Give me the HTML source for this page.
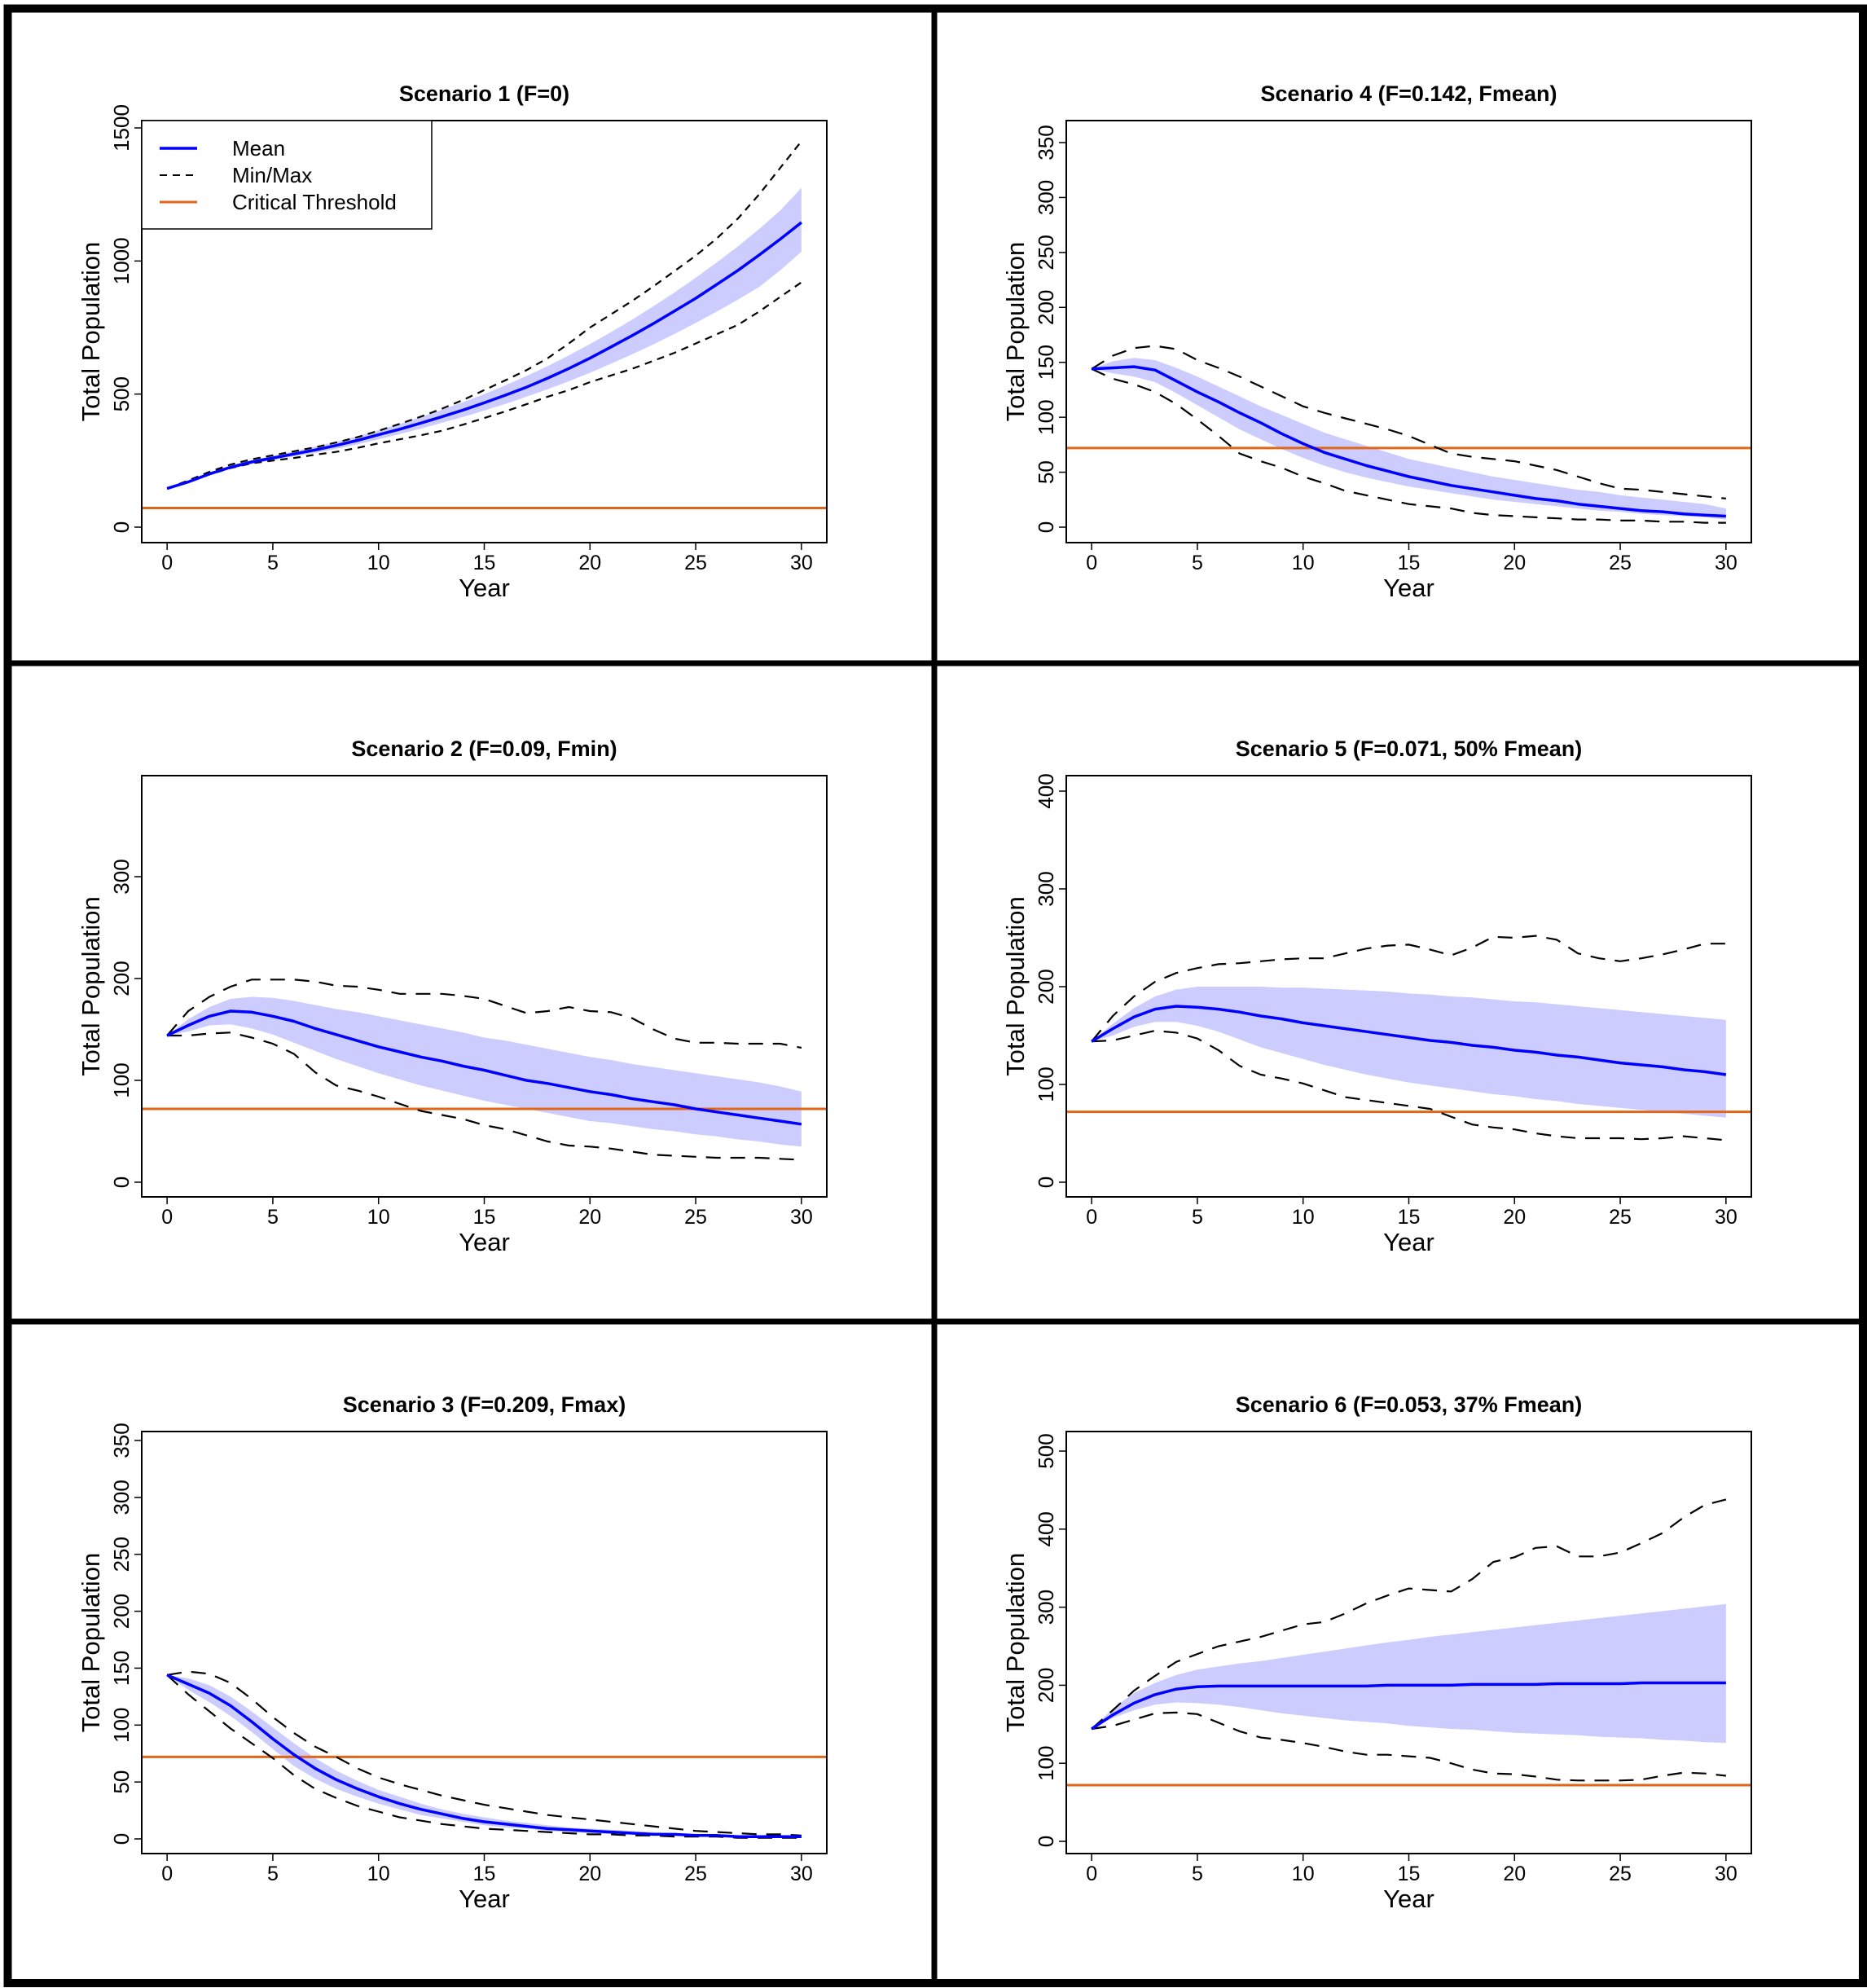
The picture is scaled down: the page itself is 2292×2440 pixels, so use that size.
<!DOCTYPE html>
<html><head><meta charset="utf-8"><style>
html,body{margin:0;padding:0;background:#fff;}
svg{display:block;}
text{font-family:"Liberation Sans",Arial,sans-serif;}
.title{font-family:"Liberation Sans Narrow","Liberation Sans",sans-serif;font-weight:bold;font-size:27px;}
.xt{font-family:"Liberation Sans Narrow","Liberation Sans",sans-serif;font-size:25px;}
.yt{font-size:26px;}
.lab{font-size:31px;}
.leg{font-family:"Liberation Sans Narrow","Liberation Sans",sans-serif;font-size:26px;}
</style></head><body>
<svg id="fig" width="2292" height="2440" viewBox="0 0 2292 2440" xmlns="http://www.w3.org/2000/svg">
<rect x="0" y="0" width="2292" height="2440" fill="#fff"/>
</svg>
<script>
const years = [0,1,2,3,4,5,6,7,8,9,10,11,12,13,14,15,16,17,18,19,20,21,22,23,24,25,26,27,28,29,30];
const threshold = 72;
const xTicks = [0,5,10,15,20,25,30];

const s1Mean = [145,170,200,225,245,260,275,290,307,326,347,368,391,415,440,467,496,526,560,596,635,677,720,765,812,860,912,965,1022,1082,1145];
const s1Upper = [145,172,204,231,252,268,285,302,321,342,364,388,414,441,470,500,533,568,605,645,688,733,780,830,882,937,995,1055,1120,1190,1275];
const s1Lower = [145,168,196,219,238,252,266,279,294,311,330,350,370,392,414,438,463,490,518,548,580,614,650,687,726,767,810,855,902,965,1035];
const s1Max = [145,175,208,235,255,270,285,300,318,338,362,388,415,445,478,515,552,590,635,690,750,800,850,905,962,1020,1085,1160,1250,1350,1450];
const s1Min = [145,168,198,222,240,250,260,272,283,298,315,330,345,362,385,410,435,462,490,515,545,570,595,625,655,690,725,760,810,865,920];
const s1Ticks = [0,500,1000,1500];

const s4Mean = [144,145,146,143,133,123,114,104,95,85,76,68,62,56,51,46,42,38,35,32,29,26,24,21,19,17,15,14,12,11,10];
const s4Upper = [144,151,154,152,145,137,128,119,110,102,94,86,80,74,68,62,58,54,50,46,43,40,37,34,32,29,27,25,23,21,17];
const s4Lower = [144,140,137,132,122,111,100,89,80,71,63,56,50,45,41,37,34,31,28,25,23,21,19,17,15,14,12,11,10,9,7];
const s4Max = [144,156,163,165,162,152,145,137,128,119,110,104,99,94,89,83,75,67,64,62,60,56,52,46,40,35,34,32,30,28,26];
const s4Min = [144,135,130,123,112,98,83,67,60,54,46,40,33,29,25,21,19,17,13,11,10,9,8,7,7,6,6,5,5,4,4];
const s4Ticks = [0,50,100,150,200,250,300,350];

const s2Mean = [144,154,163,168,167,163,158,151,145,139,133,128,123,119,114,110,105,100,97,93,89,86,82,79,76,72,69,66,63,60,57];
const s2Upper = [144,160,172,180,182,181,178,174,170,167,163,159,155,151,147,142,139,135,131,127,123,120,116,113,110,107,104,101,98,94,89];
const s2Lower = [144,148,154,155,151,145,137,129,121,114,107,101,95,90,85,80,76,72,68,64,60,58,55,52,50,47,45,42,40,37,35];
const s2Max = [144,168,182,192,199,199,199,197,193,192,189,185,185,185,183,180,173,166,168,172,168,167,161,150,141,137,137,136,136,136,132];
const s2Min = [144,144,146,147,142,136,126,108,95,90,84,77,70,66,62,56,52,46,40,36,35,33,30,27,26,25,24,24,24,23,22];
const s2Ticks = [0,100,200,300];

const s5Mean = [144,157,169,177,180,179,177,174,170,167,163,160,157,154,151,148,145,143,140,138,135,133,130,128,125,122,120,118,115,113,110];
const s5Upper = [144,162,178,190,197,200,200,200,200,199,199,198,197,196,195,193,192,190,189,187,185,184,182,180,178,176,174,172,170,168,166];
const s5Lower = [144,150,159,164,164,160,154,146,138,132,126,120,115,110,106,102,99,96,93,90,88,85,83,80,78,76,74,72,70,68,66];
const s5Max = [144,170,190,205,214,219,223,224,226,228,229,229,234,239,242,243,238,232,240,251,250,252,248,234,229,226,229,233,238,244,244];
const s5Min = [144,145,150,155,153,147,135,119,110,106,101,94,87,84,81,78,75,67,59,56,54,50,47,45,45,45,44,45,47,45,43];
const s5Ticks = [0,100,200,300,400];

const s3Mean = [144,136,128,117,103,88,74,62,52,44,37,31,26,22,18,15,13,11,9,8,7,6,5,4,4,3,3,2,2,2,2];
const s3Upper = [144,141,135,125,112,98,84,71,60,51,43,37,31,26,22,19,16,14,12,10,9,8,7,6,5,4,4,3,3,3,3];
const s3Lower = [144,131,120,108,94,79,64,53,44,37,31,26,21,18,15,12,10,9,7,6,5,4,4,3,3,2,2,2,1,1,1];
const s3Max = [144,147,145,137,123,107,93,81,72,62,54,48,43,38,34,30,27,24,21,19,17,15,13,11,9,7,6,5,4,4,3];
const s3Min = [144,127,112,97,84,71,56,44,36,29,24,19,16,13,11,9,8,7,6,5,4,4,3,3,2,2,2,1,1,1,1];
const s3Ticks = [0,50,100,150,200,250,300,350];

const s6Mean = [144,162,177,188,195,198,199,199,199,199,199,199,199,199,200,200,200,200,201,201,201,201,202,202,202,202,203,203,203,203,203];
const s6Upper = [144,170,190,203,213,220,224,228,231,235,239,243,247,251,255,258,262,265,268,271,274,277,280,283,286,289,292,295,298,301,304];
const s6Lower = [144,158,168,175,178,177,175,172,168,164,161,158,155,153,151,148,146,144,143,141,139,138,137,136,134,133,132,130,129,127,126];
const s6Max = [144,168,193,212,230,240,250,256,262,270,278,281,292,305,315,324,322,320,336,358,364,376,378,365,365,370,382,395,415,431,438];
const s6Min = [144,148,156,164,165,163,152,141,133,130,126,121,115,111,111,109,107,100,92,87,86,83,79,78,78,78,79,84,88,87,84];
const s6Ticks = [0,100,200,300,400,500];

const NS = "http://www.w3.org/2000/svg";
const svg = document.getElementById('fig');
function mk(tag, attrs, parent){
  const e = document.createElementNS(NS, tag);
  for (const k in attrs) e.setAttribute(k, attrs[k]);
  (parent||svg).appendChild(e);
  return e;
}

const panels = [
  {key:'scenario-1', title:'Scenario 1 (F=0)', box:[174,148,1015,666], y0:647, yTopVal:1500, yTopPx:157, ticks:s1Ticks, mean:s1Mean, up:s1Upper, lo:s1Lower, mx:s1Max, mn:s1Min, dash:'9,7', legend:true},
  {key:'scenario-4', title:'Scenario 4 (F=0.142, Fmean)', box:[1309,148,2150,666], y0:647, yTopVal:350, yTopPx:175, ticks:s4Ticks, mean:s4Mean, up:s4Upper, lo:s4Lower, mx:s4Max, mn:s4Min, dash:'18,12'},
  {key:'scenario-2', title:'Scenario 2 (F=0.09, Fmin)', box:[174,952,1015,1469], y0:1451, yTopVal:300, yTopPx:1076, ticks:s2Ticks, mean:s2Mean, up:s2Upper, lo:s2Lower, mx:s2Max, mn:s2Min, dash:'18,12'},
  {key:'scenario-5', title:'Scenario 5 (F=0.071, 50% Fmean)', box:[1309,952,2150,1469], y0:1451, yTopVal:400, yTopPx:971, ticks:s5Ticks, mean:s5Mean, up:s5Upper, lo:s5Lower, mx:s5Max, mn:s5Min, dash:'18,12'},
  {key:'scenario-3', title:'Scenario 3 (F=0.209, Fmax)', box:[174,1757,1015,2275], y0:2257, yTopVal:350, yTopPx:1768, ticks:s3Ticks, mean:s3Mean, up:s3Upper, lo:s3Lower, mx:s3Max, mn:s3Min, dash:'18,12'},
  {key:'scenario-6', title:'Scenario 6 (F=0.053, 37% Fmean)', box:[1309,1757,2150,2275], y0:2260, yTopVal:500, yTopPx:1781, ticks:s6Ticks, mean:s6Mean, up:s6Upper, lo:s6Lower, mx:s6Max, mn:s6Min, dash:'18,12'}
];

panels.forEach(p => {
  const [L,T,R,B] = p.box;
  const g = mk('g', {});
  
  
  const xs = v => L + (R-L)*(v + 1.2)/32.4;
  const ys = v => p.y0 - (p.y0 - p.yTopPx) * v / p.yTopVal;
  const cx = (L+R)/2;

  const t = mk('text', {x:cx, y:T-24, 'text-anchor':'middle', class:'title'}, g);
  t.textContent = p.title;
  
  

  const clip = mk('clipPath', {id:'c-'+p.key}, g);
  mk('rect', {x:L, y:T, width:R-L, height:B-T}, clip);
  const pg = mk('g', {'clip-path':'url(#c-'+p.key+')'}, g);

  let d = '';
  years.forEach((yr,i)=>{ d += (i?'L':'M') + xs(yr).toFixed(1) + ',' + ys(p.up[i]).toFixed(1); });
  for (let i = years.length-1; i >= 0; i--) d += 'L' + xs(years[i]).toFixed(1) + ',' + ys(p.lo[i]).toFixed(1);
  const band = mk('path', {d:d+'Z', fill:'#ccccff', stroke:'none'}, pg);
  
  

  const th = mk('line', {x1:L, x2:R, y1:ys(threshold), y2:ys(threshold), stroke:'#e0661a', 'stroke-width':3}, pg);
  
  

  const pathOf = arr => years.map((yr,i)=>(i?'L':'M')+xs(yr).toFixed(1)+','+ys(arr[i]).toFixed(1)).join('');
  const mx = mk('path', {d:pathOf(p.mx), fill:'none', stroke:'#000', 'stroke-width':2.2, 'stroke-dasharray':p.dash}, pg);
  
  
  const mn = mk('path', {d:pathOf(p.mn), fill:'none', stroke:'#000', 'stroke-width':2.2, 'stroke-dasharray':p.dash}, pg);
  
  
  const me = mk('path', {d:pathOf(p.mean), fill:'none', stroke:'#0000ff', 'stroke-width':3.5, 'stroke-linejoin':'round'}, pg);
  
  

  const box = mk('rect', {x:L, y:T, width:R-L, height:B-T, fill:'none', stroke:'#000', 'stroke-width':2}, g);
  
  

  const xa = mk('g', {}, g);
  
  
  xTicks.forEach(v => {
    mk('line', {x1:xs(v), x2:xs(v), y1:B, y2:B+9, stroke:'#000', 'stroke-width':1.5}, xa);
    const tl = mk('text', {x:xs(v), y:B+33, 'text-anchor':'middle', class:'xt'}, xa);
    tl.textContent = v;
    
    
  });
  const xl = mk('text', {x:cx, y:B+66, 'text-anchor':'middle', class:'lab'}, g);
  xl.textContent = 'Year';
  
  

  const ya = mk('g', {}, g);
  
  
  p.ticks.forEach(v => {
    mk('line', {x1:L, x2:L-9, y1:ys(v), y2:ys(v), stroke:'#000', 'stroke-width':1.5}, ya);
    const tl = mk('text', {x:L-16, y:ys(v), 'text-anchor':'middle', class:'yt', transform:'rotate(-90 '+(L-16)+' '+ys(v)+')'}, ya);
    tl.textContent = v;
    
    
  });
  const ylx = L - 52, yly = (T+B)/2;
  const yl = mk('text', {x:ylx, y:yly, 'text-anchor':'middle', class:'lab', transform:'rotate(-90 '+ylx+' '+yly+')'}, g);
  yl.textContent = 'Total Population';
  
  

  if (p.legend) {
    const lg = mk('g', {}, g);
    
    
    mk('rect', {x:L, y:T, width:356, height:133, fill:'#fff', stroke:'#000', 'stroke-width':1.5}, lg);
    const items = [['Mean','#0000ff','',3.5],['Min/Max','#000','9,7',2],['Critical Threshold','#e0661a','',3]];
    items.forEach((it,i) => {
      const yy = 182 + i*33;
      const ln = mk('line', {x1:196, x2:242, y1:yy, y2:yy, stroke:it[1], 'stroke-width':it[3]}, lg);
      if (it[2]) ln.setAttribute('stroke-dasharray', it[2]);
      
      
      const tx = mk('text', {x:285, y:yy+9, class:'leg'}, lg);
      tx.textContent = it[0];
      
      
    });
  }
});

const fr = mk('rect', {x:9.5, y:10.5, width:2277.5, height:2423.5, fill:'none', stroke:'#000', 'stroke-width':10});


const v1 = mk('line', {x1:1147, x2:1147, y1:10, y2:2434, stroke:'#000', 'stroke-width':7});


const h1 = mk('line', {x1:9, x2:2287, y1:814, y2:814, stroke:'#000', 'stroke-width':7});


const h2 = mk('line', {x1:9, x2:2287, y1:1622, y2:1622, stroke:'#000', 'stroke-width':7});


</script>
</body></html>
